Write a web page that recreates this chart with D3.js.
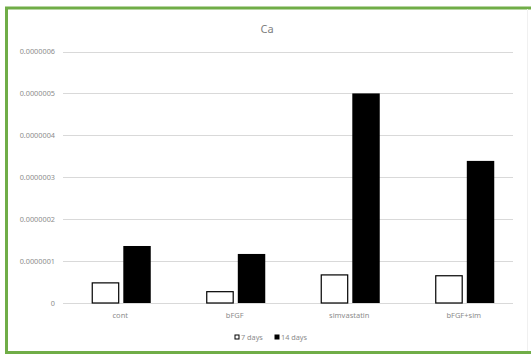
<!DOCTYPE html>
<html><head><meta charset="utf-8">
<script src="https://cdn.jsdelivr.net/npm/d3@7"></script>
<style>html,body{margin:0;padding:0;background:#fff;}svg{display:block;}</style>
</head><body>
<svg id="c" width="531" height="355"></svg>
<script>
const categories = ["cont", "bFGF", "simvastatin", "bFGF+sim"];
const seriesNames = ["7 days", "14 days"];
const days7 = [4.8e-8, 2.7e-8, 6.7e-8, 6.5e-8];
const days14 = [1.36e-7, 1.17e-7, 5.0e-7, 3.39e-7];
const yTicks = [0, 1e-7, 2e-7, 3e-7, 4e-7, 5e-7, 6e-7];
const yTickLabels = ["0", "0.0000001", "0.0000002", "0.0000003", "0.0000004", "0.0000005", "0.0000006"];
const title = "Ca";

(function () {
const svg = d3.select("#c");
const font = "'Noto Sans', 'DejaVu Sans', sans-serif";
const green = "#70AD47";

// border (top, left, bottom in green; faint right edge)
svg.append("line").attr("x1", 5).attr("x2", 531).attr("y1", 8).attr("y2", 8)
  .attr("stroke", green).attr("stroke-width", 3);
svg.append("line").attr("x1", 6.5).attr("x2", 6.5).attr("y1", 7).attr("y2", 354)
  .attr("stroke", green).attr("stroke-width", 3);
svg.append("line").attr("x1", 5).attr("x2", 531).attr("y1", 352.5).attr("y2", 352.5)
  .attr("stroke", green).attr("stroke-width", 3);
svg.append("line").attr("x1", 527.5).attr("x2", 527.5).attr("y1", 9).attr("y2", 351)
  .attr("stroke", "#f0f0f0").attr("stroke-width", 1);

const pLeft = 63, pRight = 513, pTop = 51.5, pBottom = 303;
const x0 = d3.scaleBand().domain(categories).range([64, 522]).padding(0);
const x1 = d3.scaleBand().domain(seriesNames).range([0, 59]).paddingInner(0.13).paddingOuter(0);
const y = d3.scaleLinear().domain([0, 6e-7]).range([pBottom, pTop]);

// gridlines
svg.append("g").selectAll("line").data(yTicks).join("line")
  .attr("x1", pLeft).attr("x2", pRight)
  .attr("y1", d => Math.round(y(d)) + 0.5).attr("y2", d => Math.round(y(d)) + 0.5)
  .attr("stroke", "#d9d9d9").attr("stroke-width", 1);

// y labels
svg.append("g").selectAll("text").data(yTicks).join("text")
  .attr("x", 55).attr("y", d => y(d) + 2.5)
  .attr("text-anchor", "end").attr("font-family", font).attr("font-size", 7.3)
  .attr("fill", "#8c8c8c").text((d, i) => yTickLabels[i]);

// title
svg.append("text").attr("x", 267).attr("y", 33).attr("text-anchor", "middle")
  .attr("font-family", font).attr("font-size", 11).attr("fill", "#7f7f7f").text(title);

// bars
const groups = svg.append("g").selectAll("g").data(categories).join("g")
  .attr("transform", d => `translate(${x0(d) + x0.bandwidth() / 2 - 29.5},0)`);
groups.append("rect")
  .attr("x", x1("7 days") + 0.5).attr("width", x1.bandwidth() - 1)
  .attr("y", (d, i) => y(days7[i])).attr("height", (d, i) => pBottom - y(days7[i]))
  .attr("fill", "#fff").attr("stroke", "#000").attr("stroke-width", 1.2);
groups.append("rect")
  .attr("x", x1("14 days")).attr("width", x1.bandwidth())
  .attr("y", (d, i) => y(days14[i])).attr("height", (d, i) => pBottom - y(days14[i]))
  .attr("fill", "#000");

// category labels
svg.append("g").selectAll("text").data(categories).join("text")
  .attr("x", d => x0(d) + x0.bandwidth() / 2 - 1).attr("y", 318)
  .attr("text-anchor", "middle").attr("font-family", font).attr("font-size", 7.5)
  .attr("fill", "#8c8c8c").text(d => d);

// legend
const leg = svg.append("g");
const legItems = [{name: seriesNames[0], x: 235, fill: "#fff"}, {name: seriesNames[1], x: 275, fill: "#000"}];
legItems.forEach(it => {
  leg.append("rect").attr("x", it.x).attr("y", 335).attr("width", 4).attr("height", 4)
    .attr("fill", it.fill).attr("stroke", "#000").attr("stroke-width", 1);
  leg.append("text").attr("x", it.x + 6).attr("y", 339.5).attr("font-family", font)
    .attr("font-size", 7.3).attr("fill", "#8c8c8c").text(it.name);
});
})();
</script>
</body></html>
